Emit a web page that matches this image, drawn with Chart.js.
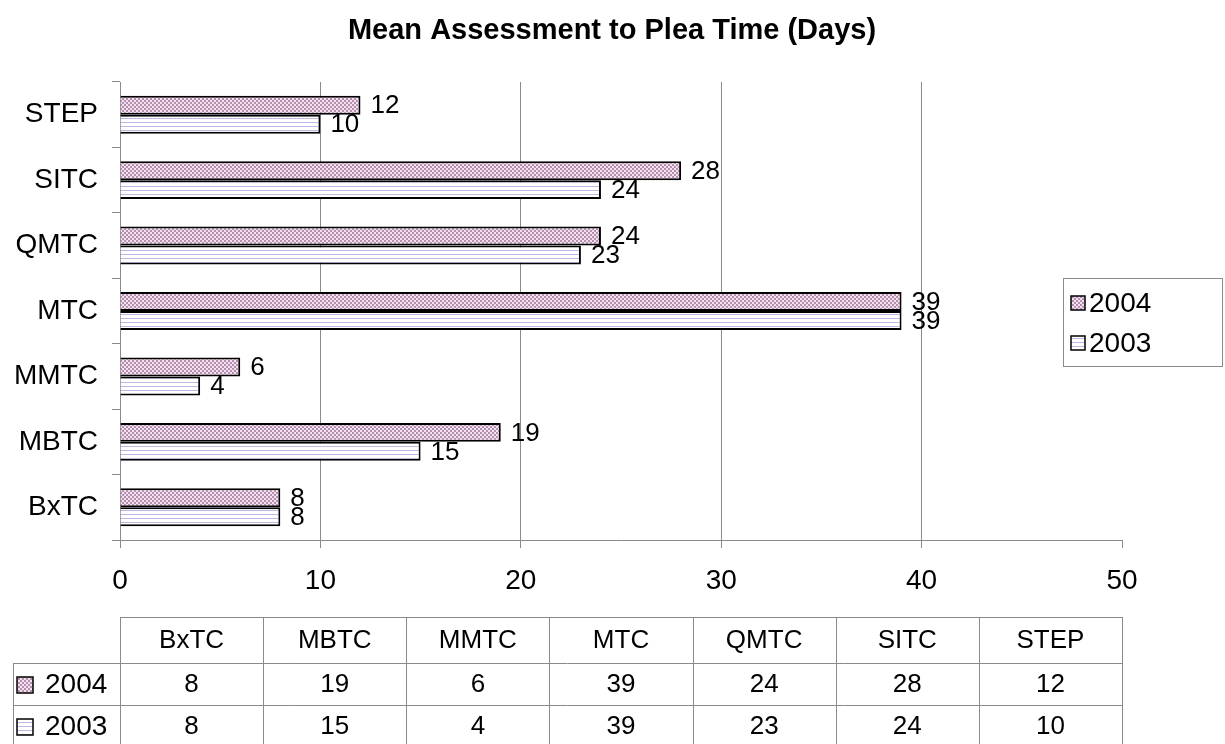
<!DOCTYPE html>
<html>
<head>
<meta charset="utf-8">
<script src="https://cdn.jsdelivr.net/npm/chart.js@4"></script>
<style>
  body { margin: 0; background: #fff; }
  #wrap { width: 1225px; height: 744px; }
</style>
</head>
<body>
<div id="wrap"><canvas id="chart" width="1225" height="744"></canvas></div>
<script>
const categories = ["BxTC", "MBTC", "MMTC", "MTC", "QMTC", "SITC", "STEP"];
const seriesNames = ["2004", "2003"];
const values2004 = [8, 19, 6, 39, 24, 28, 12];
const values2003 = [8, 15, 4, 39, 23, 24, 10];
const xTicks = [0, 10, 20, 30, 40, 50];
const chartTitle = "Mean Assessment to Plea Time (Days)";

function makeDots() {
    let c = document.createElement("canvas");
    c.width = 4; c.height = 4;
    let g = c.getContext("2d");
    g.fillStyle = "#f3e1ef";
    g.fillRect(0, 0, 4, 4);
    g.fillStyle = "#b48fae";
    g.fillRect(0, 0, 2, 2);
    g.fillRect(2, 2, 2, 2);
    return g.createPattern(c, "repeat");
}

function makeStripes() {
    let c = document.createElement("canvas");
    c.width = 4; c.height = 4;
    let g = c.getContext("2d");
    g.fillStyle = "#ffffff";
    g.fillRect(0, 0, 4, 4);
    g.fillStyle = "#bdb9e3";
    g.fillRect(0, 2, 4, 1);
    return g.createPattern(c, "repeat");
}

const dots = makeDots();
const stripes = makeStripes();
const fills = [dots, stripes];
const font = "Arial, 'Liberation Sans', sans-serif";

// title, value labels, legend box and data table
const extras = {
    id: "extras",
    afterDatasetsDraw(chart) {
        let ctx = chart.ctx;
        ctx.save();
        ctx.fillStyle = "#000";
        ctx.font = "26px " + font;
        ctx.textAlign = "left";
        ctx.textBaseline = "middle";
        chart.data.datasets.forEach((ds, i) => {
            chart.getDatasetMeta(i).data.forEach((bar, j) => {
                ctx.fillText(String(ds.data[j]), bar.x + 10, bar.y + 1);
            });
        });
        ctx.restore();
    },
    afterDraw(chart) {
        let ctx = chart.ctx;
        let area = chart.chartArea;
        ctx.save();

        // title
        ctx.fillStyle = "#000";
        ctx.font = "bold 29px " + font;
        ctx.textAlign = "center";
        ctx.textBaseline = "middle";
        ctx.fillText(chartTitle, 612, 31);

        // legend
        ctx.strokeStyle = "#8a8a8a";
        ctx.lineWidth = 1;
        ctx.strokeRect(1063.5, 278.5, 159, 88);
        ctx.font = "28px " + font;
        ctx.textAlign = "left";
        seriesNames.forEach((name, i) => {
            let y = 303 + i * 40;
            ctx.fillStyle = fills[i];
            ctx.fillRect(1071, y - 7, 14, 14);
            ctx.strokeStyle = "#000";
            ctx.lineWidth = 1.5;
            ctx.strokeRect(1071, y - 7, 14, 14);
            ctx.fillStyle = "#000";
            ctx.fillText(name, 1089, y + 1);
        });

        // data table
        let left = area.left, right = area.right;
        let colW = (right - left) / categories.length;
        let top = 617, headH = 46, rowH = 42;
        let rowLeft = 13;
        ctx.strokeStyle = "#8a8a8a";
        ctx.lineWidth = 1;
        ctx.beginPath();
        ctx.moveTo(left, top + 0.5); ctx.lineTo(right, top + 0.5);
        for (let r = 0; r <= 2; r++) {
            let y = Math.round(top + headH + r * rowH) + 0.5;
            ctx.moveTo(rowLeft, y); ctx.lineTo(right, y);
        }
        for (let c = 0; c <= categories.length; c++) {
            let x = Math.round(left + c * colW) + 0.5;
            ctx.moveTo(x, top); ctx.lineTo(x, 744);
        }
        ctx.moveTo(rowLeft + 0.5, top + headH); ctx.lineTo(rowLeft + 0.5, 744);
        ctx.stroke();

        ctx.font = "26px " + font;
        ctx.textAlign = "center";
        ctx.fillStyle = "#000";
        categories.forEach((cat, c) => {
            ctx.fillText(cat, left + (c + 0.5) * colW, top + headH / 2 + 1);
        });
        let rows = [values2004, values2003];
        rows.forEach((vals, r) => {
            let y = top + headH + (r + 0.5) * rowH + 1;
            ctx.font = "26px " + font;
            vals.forEach((v, c) => {
                ctx.fillText(String(v), left + (c + 0.5) * colW, y);
            });
            ctx.fillStyle = fills[r];
            ctx.fillRect(17, y - 8, 16, 16);
            ctx.strokeStyle = "#000";
            ctx.lineWidth = 1.5;
            ctx.strokeRect(17, y - 8, 16, 16);
            ctx.fillStyle = "#000";
            ctx.textAlign = "left";
            ctx.font = "28px " + font;
            ctx.fillText(seriesNames[r], 45, y);
            ctx.textAlign = "center";
        });
        ctx.restore();
    }
};

new Chart("chart", {
    type: "bar",
    data: {
        labels: categories,
        datasets: [
            { label: seriesNames[0], data: values2004, backgroundColor: dots, borderColor: "#000", borderWidth: 2 },
            { label: seriesNames[1], data: values2003, backgroundColor: stripes, borderColor: "#000", borderWidth: 2 }
        ]
    },
    options: {
        indexAxis: "y",
        responsive: false,
        animation: false,
        categoryPercentage: 0.58,
        barPercentage: 1.0,
        layout: { padding: { top: 82, left: 0, right: 103, bottom: 144 } },
        plugins: {
            legend: { display: false },
            title: { display: false },
            tooltip: { enabled: false }
        },
        scales: {
            x: {
                min: 0,
                max: 50,
                afterBuildTicks: (scale) => { scale.ticks = xTicks.map(v => ({ value: v })); },
                afterFit: (scale) => { scale.height = 60; },
                grid: {
                    color: (c) => (c.tick && c.tick.value > 0 && c.tick.value < 50) ? "#8a8a8a" : "rgba(0,0,0,0)",
                    tickColor: "#8a8a8a",
                    tickLength: 8,
                    lineWidth: 1
                },
                border: { color: "#8a8a8a", width: 1 },
                ticks: { color: "#000", font: { size: 28, family: font }, padding: 16 }
            },
            y: {
                reverse: true,
                afterFit: (scale) => { scale.width = 120; },
                grid: {
                    drawOnChartArea: false,
                    tickColor: "#8a8a8a",
                    tickLength: 8,
                    offset: true
                },
                border: { color: "#8a8a8a", width: 1 },
                ticks: { color: "#000", font: { size: 28, family: font }, padding: 14 }
            }
        }
    },
    plugins: [extras]
});
</script>
</body>
</html>
